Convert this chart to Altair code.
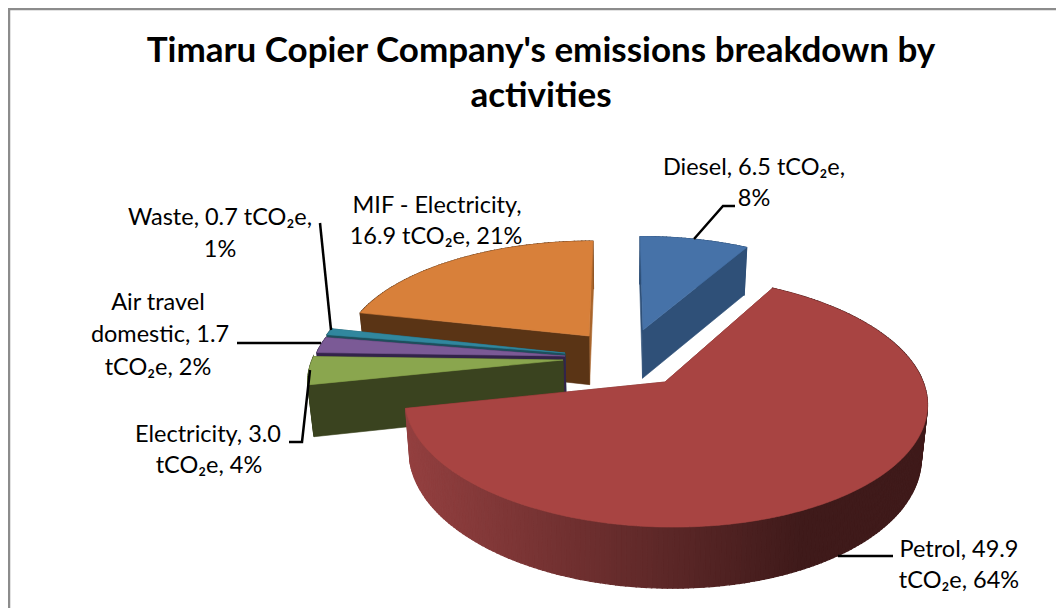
import math
import altair as alt
import pandas as pd

# ---- chart values
activities = ["Diesel", "Petrol", "Electricity", "Air travel domestic", "Waste", "MIF - Electricity"]
tco2e = [6.5, 49.9, 3.0, 1.7, 0.7, 16.9]
top_colors = ["#4672A8", "#A84442", "#8AA64E", "#7B5A96", "#31879E", "#D8803A"]
cut_colors = ["#2F5078", "#6E2B2A", "#3A431F", "#33234A", "#1D4F5C", "#5A3415"]
end_colors = ["#2F5078", "#6E2B2A", "#3A431F", "#33234A", "#1D4F5C", "#A9652B"]
wall_left = ["#2F5078", "#944040", "#3A431F", "#33234A", "#1D4F5C", "#5A3415"]
wall_right = ["#2F5078", "#3F1A1A", "#3A431F", "#33234A", "#1D4F5C", "#5A3415"]
# where each exploded wedge's tip sits
tips = [(643, 330), (665, 382), (563, 360), (565, 356), (565, 353), (589, 336)]
paint_order = [0, 5, 4, 3, 2, 1]

title_lines = ["Timaru Copier Company's emissions breakdown by", "activities"]
label_lines = [
    ("Diesel, 6.5 tCO₂e,", 754, 175), ("8%", 754, 206),
    ("Petrol, 49.9", 959, 557), ("tCO₂e, 64%", 959, 588),
    ("Electricity, 3.0", 208, 442), ("tCO₂e, 4%", 209, 473),
    ("Air travel", 158, 310), ("domestic, 1.7", 160, 342), ("tCO₂e, 2%", 158, 375),
    ("Waste, 0.7 tCO₂e,", 220, 225), ("1%", 220, 257),
    ("MIF - Electricity,", 437, 213), ("16.9 tCO₂e, 21%", 436, 244),
]
leaders = [
    [(735, 206), (723, 206), (694, 239)],
    [(893, 556), (838, 556)],
    [(320, 223), (331, 330)],
    [(237, 343), (321, 343)],
    [(289, 442), (302, 442), (310, 370)],
]

# ---- perspective of the tilted pie
W, H = 1048, 600
CX, CY, R, Q, K = 620, 357, 250, 115, 0.15
M = 8


def project(gx, gy, drop=False):
    s = 1 / (1 + K * gy)
    x = CX + gx * R * s
    y = CY - gy * Q * s
    if drop:
        x = CX + (x - CX) * 0.98
        y = y + 50 * max(s, 0.95)
    return (x - M, y - M)


def unproject(px, py):
    w = (CY - py) / Q
    gy = w / (1 - K * w)
    s = 1 / (1 + K * gy)
    return (px - CX) / (R * s), gy


def hexmix(a, b, t):
    ca = [int(a[i:i + 2], 16) for i in (1, 3, 5)]
    cb = [int(b[i:i + 2], 16) for i in (1, 3, 5)]
    return "#" + "".join(f"{round(p + (q - p) * t):02x}" for p, q in zip(ca, cb))


def poly(points, fill, stroke=None, sw=0.6):
    pts = [list(p) for p in points]
    pts.append(pts[0])
    return {"type": "Feature", "geometry": {"type": "Polygon", "coordinates": [pts]},
            "properties": {"fill": fill, "stroke": stroke or fill, "sw": sw}}


def line(points, color, sw):
    return {"type": "Feature",
            "geometry": {"type": "LineString", "coordinates": [list(p) for p in points]},
            "properties": {"fill": "transparent", "stroke": color, "sw": sw}}


total = sum(tco2e)
starts, acc = [], 0.0
for v in tco2e:
    starts.append(acc / total * 360)
    acc += v

features = [poly([(0, 0), (W, 0), (W, H), (0, H)], "#ffffff", "#ffffff", 0)]

for i in paint_order:
    a0 = starts[i]
    a1 = a0 + tco2e[i] / total * 360
    tx, ty = unproject(*tips[i])
    n = max(3, int(a1 - a0))
    angles = [a0 + (a1 - a0) * j / n for j in range(n + 1)]
    rim = [(tx + math.sin(math.radians(a)), ty + math.cos(math.radians(a))) for a in angles]
    faces = [poly([project(tx, ty), project(*g), project(*g, True), project(tx, ty, True)], col)
             for g, col in ((rim[-1], end_colors[i]), (rim[0], cut_colors[i]))]
    # outer wall, strip by strip
    walls = []
    for j in range(n):
        g0, g1 = rim[j], rim[j + 1]
        quad = [project(*g0), project(*g1), project(*g1, True), project(*g0, True)]
        mid = (quad[0][0] + quad[1][0]) / 2
        t = min(1, max(0, (mid - 395) / 400))
        walls.append(poly(quad, hexmix(wall_left[i], wall_right[i], t), sw=1.2))
    # the big wedge's cut faces are hidden behind its own wall
    features += (faces + walls) if activities[i] == "Petrol" else (walls + faces)
    # top face
    features.append(poly([project(tx, ty)] + [project(*g) for g in rim], top_colors[i]))

for l in leaders:
    features.append(line([(x - M, y - M) for x, y in l], "#000000", 2.5))

# frame
features.append(line([(1, H), (1, 1), (W, 1)], "#8C8C8C", 2.5))

geo = alt.Chart(alt.Data(values=features)).mark_geoshape().encode(
    fill=alt.Fill("properties.fill:N", scale=None, legend=None),
    stroke=alt.Stroke("properties.stroke:N", scale=None, legend=None),
    strokeWidth=alt.StrokeWidth("properties.sw:Q", scale=None, legend=None),
).project(type="identity")

labels = pd.DataFrame({
    "text": [t for t, _, _ in label_lines],
    "x": [x - M for _, x, _ in label_lines],
    "y": [y - M for _, _, y in label_lines],
})
label_text = alt.Chart(labels).mark_text(
    font="Lato", fontSize=23.5, color="#000000", align="center", baseline="alphabetic"
).encode(x=alt.X("x:Q", scale=None, axis=None), y=alt.Y("y:Q", scale=None, axis=None), text="text:N")

titles = pd.DataFrame({"text": title_lines, "x": [541 - M, 541 - M], "y": [62 - M, 107 - M]})
title_text = alt.Chart(titles).mark_text(
    font="Lato", fontSize=35, fontWeight="bold", color="#000000", align="center", baseline="alphabetic"
).encode(x=alt.X("x:Q", scale=None, axis=None), y=alt.Y("y:Q", scale=None, axis=None), text="text:N")

chart = alt.layer(geo, label_text, title_text).properties(
    width=W, height=H, padding=0, autosize=alt.AutoSizeParams(type="none"), background="#ffffff"
).configure_view(stroke=None)

chart.save("out.html", embed_options={"renderer": "svg", "actions": False})
